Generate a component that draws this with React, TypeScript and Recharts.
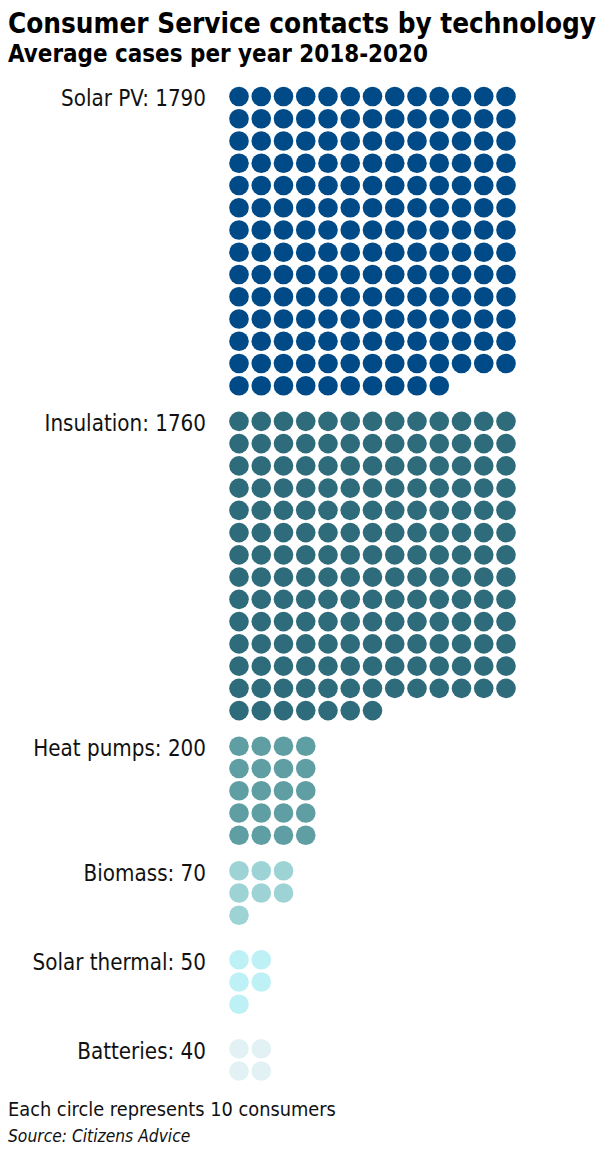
import React from "react";
import { ScatterChart, Scatter, XAxis, YAxis } from "recharts";

// one circle = 10 consumers
const technologies = ["Solar PV", "Insulation", "Heat pumps", "Biomass", "Solar thermal", "Batteries"];
const cases = [1790, 1760, 200, 70, 50, 40];
const COLORS = ["#004b87", "#2e6b7b", "#5f9ea3", "#9dd3d5", "#bdf1f6", "#e2f2f4"];
const PER_CIRCLE = 10;

const FONT = "'Liberation Sans Narrow', 'DejaVu Sans Condensed', Roboto, sans-serif";
const UNIT = 22.25; // px per column / row
const MIN_BLOCK = 4; // rows reserved per group at least
const GAP = 0.6;

// build the waffle grid for every group
let start = 0;
const groups = technologies.map((name, g) => {
  const n = Math.round(cases[g] / PER_CIRCLE);
  const perRow = Math.round(Math.sqrt(n));
  const rows = Math.ceil(n / perRow);
  const points = Array.from({ length: n }, (_, i) => ({
    col: i % perRow,
    row: start + Math.floor(i / perRow),
  }));
  const group = { name, value: cases[g], color: COLORS[g], start, points };
  start += Math.max(rows + GAP, MIN_BLOCK);
  return group;
});
const groupStarts = groups.map((g) => g.start);

const LabelTick = (props: any) => {
  const { x, y, payload } = props;
  const g = groups.find((gr) => gr.start === payload.value);
  if (!g) return null;
  return (
    <text x={x} y={y + 2} dy="0.355em" textAnchor="end" fontFamily={FONT} fontSize={22.2} fill="#111">
      {`${g.name}: ${g.value}`}
    </text>
  );
};

export default function App() {
  const width = 614;
  const height = 1151;
  const top = 96.5;
  const left = 239;
  const axisW = 200;
  return (
    <div style={{ position: "absolute", left: 0, top: 0, width, height, background: "#fff" }}>
      <ScatterChart
        width={width}
        height={height}
        margin={{ top, left: left - axisW, right: width - left - 16 * UNIT, bottom: height - top - 46 * UNIT }}
      >
        <XAxis type="number" dataKey="col" domain={[0, 16]} hide />
        <YAxis
          type="number"
          dataKey="row"
          domain={[0, 46]}
          reversed
          width={axisW}
          ticks={groupStarts}
          interval={0}
          axisLine={false}
          tickLine={false}
          tickSize={0}
          tickMargin={33}
          tick={LabelTick}
        />
        {groups.map((g) => (
          <Scatter
            key={g.name}
            data={g.points}
            isAnimationActive={false}
            shape={(p: any) => <circle cx={p.cx} cy={p.cy} r={9.8} fill={g.color} />}
          />
        ))}
      </ScatterChart>
      <svg width={width} height={height} style={{ position: "absolute", left: 0, top: 0, pointerEvents: "none" }}>
        <text x={8} y={33} fontFamily={FONT} fontWeight="bold" fontSize={28} fill="#000" textLength={588} lengthAdjust="spacingAndGlyphs">
          Consumer Service contacts by technology
        </text>
        <text x={8} y={62} fontFamily={FONT} fontWeight="bold" fontSize={25} fill="#000" textLength={420} lengthAdjust="spacingAndGlyphs">
          Average cases per year 2018-2020
        </text>
        <text x={8} y={1116} fontFamily={FONT} fontSize={19.8} fill="#111">
          Each circle represents 10 consumers
        </text>
        <text x={8} y={1142} fontFamily={FONT} fontStyle="italic" fontSize={17.3} fill="#111">
          Source: Citizens Advice
        </text>
      </svg>
    </div>
  );
}
